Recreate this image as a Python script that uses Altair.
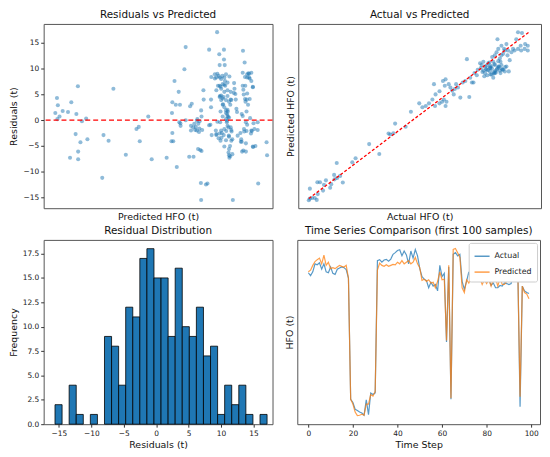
import altair as alt
import pandas as pd

FONT = "DejaVu Sans"
BLUE = "#1f77b4"
ORANGE = "#ff7f0e"

# ---------------- Residuals vs Predicted (top-left) ----------------
tl_predicted = [
    34.2, 35.5, 36.2, 35.8, 37.5, 40.0, 44.2, 46.8, 50.8, 52.0, 45.8, 50.2, 52.2, 52.2, 54.0, 55.2,
    58.5, 59.5, 71.2, 72.2, 76.2, 80.0, 89.8, 98.2, 100.0, 100.8, 107.5, 110.2, 122.0, 126.2, 126.5,
    125.8, 127.2, 128.2, 126.5, 129.2, 130.0, 131.5, 132.0, 132.5, 132.8, 133.0, 136.0, 137.0, 137.0,
    139.8, 140.5, 141.2, 141.8, 143.0, 143.2, 144.5, 145.0, 145.8, 146.2, 146.8, 147.8, 148.0, 148.5,
    149.0, 149.2, 149.2, 149.5, 149.5, 151.0, 151.2, 153.0, 154.2, 155.5, 155.5, 156.5, 157.0, 157.0,
    157.2, 157.5, 160.0, 160.8, 161.2, 161.8, 162.0, 162.0, 162.5, 163.0, 163.5, 163.8, 164.0, 164.0,
    164.2, 164.5, 164.5, 165.0, 165.2, 165.5, 166.0, 166.2, 166.5, 166.8, 167.2, 167.2, 167.5, 167.8,
    168.0, 168.2, 168.8, 168.8, 169.0, 169.5, 169.8, 170.0, 170.2, 170.5, 170.8, 171.0, 171.2, 171.5,
    171.5, 172.0, 172.2, 172.5, 173.0, 173.2, 173.8, 174.2, 175.0, 175.2, 175.5, 176.2, 176.5, 177.0,
    177.5, 178.0, 180.2, 180.5, 180.8, 181.2, 181.5, 182.2, 182.5, 182.8, 183.0, 183.2, 183.5, 183.8,
    184.0, 184.2, 184.5, 184.5, 185.0, 185.2, 185.5, 186.2, 186.5, 187.0, 187.5, 187.8, 188.5, 189.2,
    190.0, 190.2, 190.5, 192.0, 193.8, 194.2, 200.8, 201.2,
    160.0, 161.2, 163.0, 165.0, 167.5, 170.0, 166.2, 163.8, 161.2, 165.0, 167.5, 170.0, 172.5, 163.8,
    165.0, 166.2, 168.8, 171.2, 173.0, 166.2, 167.5, 170.0, 168.8, 170.0, 171.2, 168.8, 169.5, 170.0,
    172.5, 167.5, 165.0, 163.8, 161.2, 167.0, 171.2, 168.8, 173.0, 164.5, 167.5, 172.0, 170.8, 171.2,
    173.8,
    182.0, 185.5, 188.8, 187.0, 188.8, 182.0, 190.0, 185.5, 187.5, 183.8, 185.0, 182.0, 185.5, 188.8,
    191.2, 193.8, 181.2, 184.5, 182.5, 190.0,
    141.2, 143.8, 145.8, 147.5, 150.0, 147.0,
]
tl_residual = [
    1.4, 4.3, 2.9, 0.2, 0.7, 1.8, 1.6, 3.5, 1.2, 6.6, -7.3, -2.7, -6.1, -7.6, -4.3, -0.2,
    0.3, -3.7, -11.2, -2.9, -4.0, 6.1, -6.7, -1.7, -1.3, -4.1, 0.7, -7.6, -7.3, 1.4, -2.5,
    -4.1, -4.1, 7.6, 3.5, 3.0, -9.1, 5.5, -0.4, 3.0, -0.6, -1.1, 9.9, 14.2, 0.0,
    -7.1, 2.7, -2.0, 3.2, -1.4, -7.1, -1.9, -1.3, -2.0, 0.2, -5.6, -1.6, -0.2, -5.8,
    -12.2, 1.9, -15.5, -6.0, 0.7, 5.8, 4.0, -12.5, -12.3, 13.7, -1.0, -0.9, 2.5, 4.0,
    8.4, -2.9, 8.1, -2.0, -2.7, 17.1, 9.0, -0.3, 6.7, -3.5, 12.8, 10.7, 8.3, 4.7,
    -0.4, 1.7, 6.5, 4.8, -3.4, -2.5, 8.6, 0.7, 3.1, 4.5, 13.7, 11.8, 6.9, 10.7,
    7.6, 6.7, 1.9, 8.9, -2.1, -0.1, 1.2, 4.7, 1.7, 0.6, -1.4, -3.0, -5.6, 8.5,
    -7.3, -7.0, 3.0, 4.0, -1.9, -2.2, -3.7, -15.5, 5.3, 7.2, 6.1, 5.1, 4.0, 2.2,
    1.6, -3.0, -2.5, -4.2, -3.7, 1.2, -6.1, 13.5, 5.9, 5.0, -1.7, -2.2, 11.2, 8.4,
    6.7, 3.6, -0.4, -6.1, -2.1, 4.0, 8.3, 3.0, 9.1, 9.0, 8.1, 0.4, -2.6, -2.1,
    6.5, -5.2, -0.6, -5.0, -1.9, -12.3, -4.3, -6.8,
    8.9, 8.3, 8.6, 8.0, 8.3, 7.3, 7.0, 6.7, 5.8, 6.1, 5.5, 5.8, 5.5, 4.5,
    3.9, 4.2, 3.9, 3.6, 3.9, 3.0, 2.5, 2.0, 1.4, 0.8, 0.5, 0.2, -0.4, -1.1,
    -1.4, -1.7, -2.0, -2.6, -2.9, -2.9, -3.2, -3.9, -4.0, -4.0, -5.1, -5.0, -6.3, -6.8,
    -6.6,
    9.2, 8.9, 9.2, 8.3, 7.6, 6.7, 6.4, 5.2, 4.1, 4.1, 1.7, 0.8, -0.9, -2.0,
    -1.7, -0.4, -4.2, -4.5, -5.9, -5.1,
    -1.1, -0.7, -0.1, -2.3, -1.9, -0.7,
]
zero_level = [0]

# ---------------- Actual vs Predicted (top-right) ----------------
tr_actual = [
    20.0, 20.8, 22.5, 24.5, 26.0, 20.8, 26.8, 30.8, 26.5, 28.5, 31.5, 33.0, 37.0, 36.2, 39.2, 39.5,
    41.5, 43.8, 45.8, 41.2, 53.0, 55.5, 65.8, 73.5, 80.5, 81.8, 84.2, 85.5, 93.5, 97.5,
    103.8, 106.2, 108.8, 111.2, 115.8, 113.8, 116.2, 119.2, 115.0, 121.8, 123.8, 123.2, 126.2, 127.5,
    128.8, 130.8, 131.8, 133.2, 135.0, 130.0, 121.2, 123.8, 124.5, 119.2, 122.5, 141.8, 140.0, 136.8,
    138.8, 142.5, 143.8, 145.0, 145.8, 147.5, 148.2, 150.0, 151.2, 152.5, 153.8, 155.0, 156.2, 157.5,
    153.8, 157.5, 158.8, 160.0, 161.2, 162.5, 163.8, 165.0, 166.2, 167.5, 170.0, 171.8, 168.8, 161.2,
    160.0, 161.2, 162.5, 163.8, 163.2, 166.2, 168.2, 170.0, 171.2, 173.8, 175.0, 176.2, 178.8, 181.2,
    183.8, 186.2, 186.2, 177.5, 178.8, 181.8, 184.2, 180.8, 168.8, 165.0, 166.2, 159.2, 157.0, 155.5,
    151.8, 150.5, 153.2, 157.8, 163.8, 172.5, 170.8, 167.5, 165.5,
    159.0, 161.5, 164.0, 156.0, 158.5, 162.0, 166.5, 169.0, 154.5, 160.5,
    155.0, 157.5, 160.5, 163.0, 165.5, 152.5, 158.0, 161.0, 167.0, 164.5,
]
tr_predicted = [
    18.4, 20.0, 20.6, 20.6, 18.7, 30.0, 24.5, 28.0, 36.4, 36.4, 33.8, 38.3, 34.5, 30.9, 43.8, 39.3,
    40.6, 42.8, 36.1, 55.7, 56.4, 60.5, 74.7, 64.7, 85.3, 84.4, 85.6, 95.3, 92.1, 107.2,
    115.6, 111.7, 113.0, 115.6, 113.0, 119.4, 124.6, 127.8, 134.9, 138.1, 139.7, 133.3, 134.9, 131.6,
    128.4, 130.0, 134.9, 131.6, 121.4, 124.6, 117.2, 113.0, 117.2, 115.6, 119.4, 122.0, 160.0, 136.5,
    138.1, 141.3, 136.5, 136.5, 146.1, 143.9, 149.3, 155.8, 154.2, 157.4, 152.6, 149.3, 155.8, 152.6,
    146.1, 147.7, 144.5, 141.3, 146.1, 149.3, 152.6, 148.4, 154.2, 149.3, 152.6, 147.7, 147.7, 154.2,
    157.4, 163.8, 167.0, 170.3, 179.9, 173.5, 170.3, 175.1, 168.6, 167.0, 170.3, 168.6, 170.3, 168.6,
    170.3, 173.5, 168.6, 179.9, 187.0, 186.3, 175.1, 173.5, 168.6, 160.6, 163.8, 162.2, 156.7, 143.9,
    147.1, 151.0, 142.9, 151.0, 158.0, 159.0, 163.8, 165.4, 157.4,
    150.5, 148.0, 151.5, 149.0, 153.0, 146.5, 150.0, 152.0, 150.0, 145.5,
    153.5, 151.0, 147.0, 150.5, 146.0, 148.5, 144.5, 155.0, 149.5, 152.5,
]
diag_ends = [20.0, 187.0]

# ---------------- Residual Distribution (bottom-left) ----------------
bin_edges = [-15.6, -14.51, -13.42, -12.33, -11.24, -10.15, -9.06, -7.97, -6.88, -5.79, -4.7,
             -3.61, -2.52, -1.43, -0.34, 0.75, 1.84, 2.93, 4.02, 5.11, 6.2, 7.29, 8.38, 9.47,
             10.56, 11.65, 12.74, 13.83, 14.92, 16.01, 17.1]
bin_counts = [2, 0, 4, 1, 0, 1, 0, 9, 8, 4, 12, 11, 17, 18, 15, 15, 9, 16, 10, 9, 12, 7, 8, 1,
              4, 2, 4, 1, 0, 1]
freq_ticks = [0, 2.5, 5, 7.5, 10, 12.5, 15, 17.5]
resid_ticks = [-15, -10, -5, 0, 5, 10, 15]

# ---------------- Time Series Comparison (bottom-right) ----------------
ts_actual = [
    164.0, 161.0, 165.0, 173.3, 172.3, 174.3, 167.7, 173.3, 165.0, 164.0,
    170.0, 163.3, 162.3, 167.7, 169.0, 170.0, 169.3, 167.3, 158.3, 31.7,
    28.3, 21.3, 20.0, 18.3, 17.3, 15.0, 31.0, 15.7, 38.3, 36.7,
    38.3, 176.7, 177.7, 175.0, 177.3, 178.0, 176.0, 178.3, 183.3, 185.0,
    187.3, 188.0, 181.7, 186.7, 182.7, 173.3, 186.7, 179.3, 188.3, 181.7,
    168.3, 160.0, 157.3, 155.7, 148.3, 154.0, 150.0, 151.7, 145.0, 171.7,
    160.0, 163.3, 91.7, 170.0, 31.7, 183.3, 185.0, 181.7, 183.3, 155.0,
    146.7, 155.0, 165.0, 155.0, 164.0, 156.7, 165.0, 156.7, 158.3, 155.0,
    156.7, 157.3, 150.7, 153.3, 148.3, 148.3, 150.7, 150.0, 153.3, 152.7,
    151.7, 152.7, 168.3, 166.7, 166.7, 24.0, 150.0, 145.0, 143.3, 142.3,
]
ts_predicted = [
    165.0, 166.7, 171.7, 175.7, 177.7, 179.3, 173.3, 182.3, 171.7, 175.0,
    168.3, 169.3, 168.3, 170.0, 171.7, 170.7, 170.0, 171.7, 158.3, 31.7,
    26.7, 18.3, 14.7, 15.0, 16.0, 15.0, 26.7, 26.7, 36.7, 35.0,
    40.0, 166.7, 174.0, 171.7, 170.7, 172.3, 170.7, 171.7, 172.7, 172.3,
    175.0, 173.3, 176.7, 173.3, 175.0, 176.7, 173.3, 175.0, 180.0, 173.3,
    169.3, 156.0, 157.3, 155.0, 156.7, 153.3, 154.0, 148.3, 155.0, 165.0,
    156.7, 157.3, 93.3, 171.7, 32.7, 188.3, 189.3, 185.0, 180.0, 148.3,
    143.3, 156.7, 153.3, 158.3, 160.0, 157.3, 160.0, 158.3, 151.7, 156.7,
    152.7, 156.7, 150.0, 157.3, 158.3, 150.0, 158.3, 151.7, 151.7, 155.0,
    155.0, 156.7, 165.0, 166.0, 165.0, 34.3, 150.0, 143.3, 141.7, 136.7,
]
series_names = ["Actual", "Predicted"]
step_ticks = [0, 20, 40, 60, 80, 100]

# ---------------- build ----------------
PW_L, PW_R = 231, 245
PH_T, PH_B = 186, 186

def hidden_axis(title):
    return alt.Axis(title=title, labels=False, ticks=False)

resid_axis = alt.Axis(title="Residuals (t)", values=resid_ticks, minExtent=22, maxExtent=22,
                      labelOverlap=False, labelFlush=False)

# top-left
tl_df = pd.DataFrame({"pred": tl_predicted, "res": tl_residual})
tl_x = alt.Scale(domain=[25, 205.5], nice=False, zero=False)
tl_y = alt.Scale(domain=[-17.1, 18.7], nice=False, zero=False)
tl_pts = alt.Chart(tl_df).mark_circle(size=17, opacity=0.5, color=BLUE).encode(
    x=alt.X("pred:Q", scale=tl_x, axis=hidden_axis("Predicted HFO (t)")),
    y=alt.Y("res:Q", scale=tl_y, axis=resid_axis),
)
tl_rule = alt.Chart(pd.DataFrame({"res": zero_level})).mark_rule(
    color="#ff0000", stroke="#ff0000", strokeDash=[5, 3], strokeWidth=1.3, opacity=1).encode(
    y=alt.Y("res:Q", scale=tl_y, axis=resid_axis))
tl = alt.layer(tl_pts, tl_rule).properties(title="Residuals vs Predicted", width=PW_L, height=PH_T)

# top-right
tr_df = pd.DataFrame({"actual": tr_actual, "pred": tr_predicted})
tr_x = alt.Scale(domain=[12, 196.25], nice=False, zero=False)
tr_y = alt.Scale(domain=[10.35, 195.35], nice=False, zero=False)
tr_pts = alt.Chart(tr_df).mark_circle(size=17, opacity=0.5, color=BLUE).encode(
    x=alt.X("actual:Q", scale=tr_x, axis=hidden_axis("Actual HFO (t)")),
    y=alt.Y("pred:Q", scale=tr_y, axis=hidden_axis("Predicted HFO (t)")),
)
tr_line = alt.Chart(pd.DataFrame({"actual": diag_ends, "pred": diag_ends})).mark_line(
    color="#ff0000", strokeDash=[3, 2], strokeWidth=1.3).encode(
    x=alt.X("actual:Q", scale=tr_x, axis=hidden_axis("Actual HFO (t)")),
    y=alt.Y("pred:Q", scale=tr_y, axis=hidden_axis("Predicted HFO (t)")))
tr = alt.layer(tr_pts, tr_line).properties(title="Actual vs Predicted", width=PW_R, height=PH_T)

# bottom-left
hist_df = pd.DataFrame({"lo": bin_edges[:-1], "hi": bin_edges[1:], "count": bin_counts})
hist_df = hist_df[hist_df["count"] > 0].copy()
hist_df["base"] = 0
bl = alt.Chart(hist_df).mark_rect(color=BLUE, stroke="black", strokeWidth=0.8).encode(
    x=alt.X("lo:Q", scale=alt.Scale(domain=[-17.35, 17.94], nice=False, zero=False),
            axis=alt.Axis(title="Residuals (t)", values=resid_ticks, labelOverlap=False,
                          labelFlush=False)),
    x2="hi:Q",
    y=alt.Y("count:Q", scale=alt.Scale(domain=[0, 18.9], nice=False),
            axis=alt.Axis(title="Frequency", values=freq_ticks, format=".1f",
                          minExtent=22, maxExtent=22, labelOverlap=False, labelFlush=False)),
    y2="base:Q",
).properties(title="Residual Distribution", width=PW_L, height=PH_B)

# bottom-right
steps = list(range(len(ts_actual)))
ts_df = pd.concat([
    pd.DataFrame({"t": steps, "v": ts_actual, "s": series_names[0]}),
    pd.DataFrame({"t": steps, "v": ts_predicted, "s": series_names[1]}),
])
br = alt.Chart(ts_df).mark_line(strokeWidth=1.2, opacity=0.75).encode(
    x=alt.X("t:Q", scale=alt.Scale(domain=[-4.95, 103.95], nice=False, zero=False),
            axis=alt.Axis(title="Time Step", values=step_ticks, labelOverlap=False,
                          labelFlush=False)),
    y=alt.Y("v:Q", scale=alt.Scale(domain=[5.67, 198.33], nice=False, zero=False),
            axis=hidden_axis("HFO (t)")),
    color=alt.Color("s:N", scale=alt.Scale(domain=series_names, range=[BLUE, ORANGE]),
                    legend=alt.Legend(title=None, orient="top-right", fillColor="white",
                                      strokeColor="#cccccc", padding=5, cornerRadius=2,
                                      symbolType="stroke", symbolStrokeWidth=1.5,
                                      symbolSize=230, labelFontSize=8, rowPadding=3,
                                      offset=3, labelColor="#222")),
).properties(title="Time Series Comparison (first 100 samples)", width=PW_R, height=PH_B)

bottom = alt.hconcat(bl, br, spacing=10).resolve_scale(color="independent").resolve_legend(color="independent")
top = alt.hconcat(tl, tr, spacing=10)

chart = alt.vconcat(top, bottom, spacing=5).resolve_scale(
    color="independent").resolve_legend(color="independent").properties(padding=0).configure(
    font=FONT).configure_view(
    stroke="#555555", strokeWidth=1
).configure_axis(
    labelFontSize=7.5, titleFontSize=9.5, titleFontWeight="normal", labelColor="#222222",
    titleColor="#111111", tickSize=3, tickColor="#333333", labelPadding=2, titlePadding=3,
    grid=False, domain=False,
).configure_title(fontSize=10.5, fontWeight="normal", offset=3, color="#111111")

chart.save("out.html", embed_options={"renderer": "svg", "actions": False})
